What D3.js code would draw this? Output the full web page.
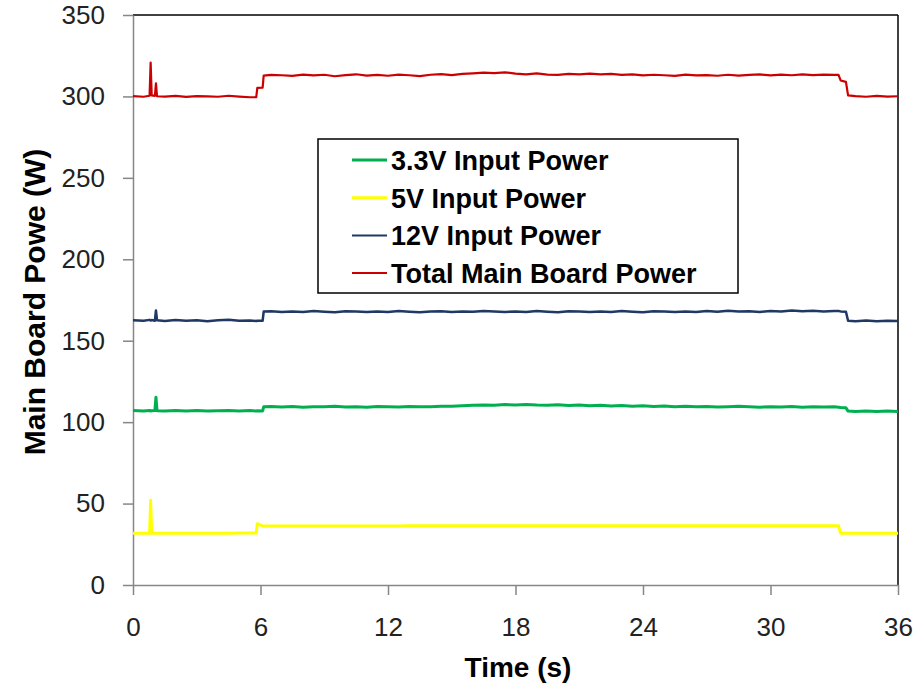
<!DOCTYPE html>
<html>
<head>
<meta charset="utf-8">
<script src="https://cdn.jsdelivr.net/npm/d3@7"></script>
<style>
  body { margin: 0; background: #fff; }
  svg { display: block; }
</style>
</head>
<body>
<script>

const time = [
  0, 0.5, 0.78, 0.83, 0.88, 1.03, 1.08, 1.13, 1.5, 2, 2.5, 3, 3.5, 4, 4.5, 5, 5.5, 5.8, 5.85, 6.1, 6.15, 6.5,
  7, 7.5, 8, 8.5, 9, 9.5, 10, 10.5, 11, 11.5,
  12, 12.5, 13, 13.5, 14, 14.5, 15, 15.5, 16, 16.5,
  17, 17.5, 18, 18.5, 19, 19.5, 20, 20.5, 21, 21.5,
  22, 22.5, 23, 23.5, 24, 24.5, 25, 25.5, 26, 26.5,
  27, 27.5, 28, 28.5, 29, 29.5, 30, 30.5, 31, 31.5,
  32, 32.5, 33, 33.2, 33.3, 33.55, 33.65, 34, 34.5, 35, 35.5, 36
];

const power33 = [
  107.1, 106.8, 107.2, 106.9, 107.0, 107.1, 115.3, 107.0, 106.8, 107.2, 106.9, 107.1, 106.8, 107.0, 107.2, 106.9, 107.1, 106.8, 107.0, 106.9, 109.4, 109.6,
  109.3, 109.6, 109.2, 109.5, 109.4, 109.7, 109.3, 109.5, 109.2, 109.6,
  109.4, 109.3, 109.6, 109.5, 109.4, 109.7, 109.8, 110.1, 110.3, 110.6,
  110.4, 110.8, 110.6, 110.9, 110.5, 110.3, 110.7, 110.2, 110.5, 110.0,
  110.3, 109.9, 110.2, 109.8, 110.1, 109.6, 109.9, 109.5, 109.7, 109.4,
  109.6, 109.3, 109.5, 109.7, 109.4, 109.2, 109.5, 109.3, 109.6, 109.2,
  109.4, 109.3, 109.5, 109.2, 109.0, 108.8, 106.8, 106.6, 106.9, 106.5, 106.8, 106.6
];

const power5 = [
  31.7, 31.7, 31.7, 52.0, 31.7, 31.7, 31.7, 31.7, 31.7, 31.7, 31.8, 31.8, 31.8, 31.8, 31.8, 31.9, 31.9, 31.9, 37.6, 36.3, 36.2, 36.3,
  36.3, 36.3, 36.3, 36.3, 36.3, 36.3, 36.3, 36.3, 36.3, 36.3,
  36.3, 36.3, 36.4, 36.4, 36.4, 36.4, 36.4, 36.4, 36.4, 36.4,
  36.4, 36.4, 36.4, 36.4, 36.4, 36.4, 36.4, 36.4, 36.4, 36.4,
  36.4, 36.4, 36.4, 36.4, 36.4, 36.4, 36.4, 36.4, 36.4, 36.4,
  36.4, 36.4, 36.4, 36.4, 36.4, 36.4, 36.4, 36.4, 36.4, 36.4,
  36.4, 36.4, 36.4, 36.4, 31.8, 31.7, 31.7, 31.7, 31.7, 31.7, 31.7, 31.7
];

const power12 = [
  162.6, 162.2, 162.8, 162.4, 162.7, 162.3, 168.6, 162.5, 162.1, 162.7, 162.3, 162.6, 162.0, 162.5, 162.8, 162.2, 162.4, 162.1, 162.3, 162.2, 167.9, 168.1,
  167.6, 168.0, 167.7, 168.2, 167.8, 167.5, 168.1, 167.9, 167.6, 168.0,
  167.7, 168.2, 167.8, 167.5, 167.9, 168.1, 167.6, 168.0, 167.8, 168.3,
  167.9, 167.6, 168.0, 167.7, 168.2, 167.8, 167.5, 168.1, 167.9, 167.6,
  168.0, 167.7, 168.2, 167.8, 167.5, 168.1, 167.9, 167.6, 168.0, 167.7,
  168.2, 167.8, 168.4, 167.9, 168.1, 167.7, 168.3, 168.0, 168.5, 168.1,
  168.4, 167.9, 168.2, 168.3, 168.0, 167.8, 162.3, 162.0, 162.4, 161.9, 162.3, 162.1
];

const powerTotal = [
  300.2, 299.8, 300.4, 320.8, 300.6, 300.3, 308.0, 300.1, 299.9, 300.3, 299.7, 300.2, 300.0, 299.8, 300.4, 299.9, 299.5, 299.6, 305.2, 305.4, 312.8, 313.2,
  313.0, 312.6, 313.4, 312.9, 313.3, 312.4, 313.1, 313.6, 312.8, 313.2,
  312.7, 313.4, 313.0, 312.5, 313.3, 313.7, 313.1, 313.9, 314.2, 314.6,
  314.3, 314.8, 314.0, 313.6, 314.1, 313.4, 313.2, 313.8, 313.5, 314.0,
  313.6, 313.9, 313.2, 313.5, 312.9, 313.3, 313.0, 312.6, 313.4, 312.9,
  313.1, 312.7, 313.3, 312.8, 313.2, 313.5, 312.9, 313.4, 313.0, 313.6,
  313.1, 313.4, 313.2, 313.3, 309.8, 308.9, 300.6, 300.2, 299.8, 300.3, 299.9, 300.1
];

const seriesNames = ["3.3V Input Power", "5V Input Power", "12V Input Power", "Total Main Board Power"];
const seriesValues = [power33, power5, power12, powerTotal];
const seriesColors = ["#00b050", "#ffff00", "#1f3864", "#cc0000"];
const seriesWidths = [3, 3, 2.5, 2.2];

const xTicks = [0, 6, 12, 18, 24, 30, 36];
const yTicks = [0, 50, 100, 150, 200, 250, 300, 350];

const width = 918;
const height = 691;
const margin = {top: 15, right: 20, bottom: 106, left: 133};
const chartWidth = width - margin.left - margin.right;
const chartHeight = height - margin.top - margin.bottom;

const xScale = d3.scaleLinear().domain([0, 36]).range([0, chartWidth]);
const yScale = d3.scaleLinear().domain([0, 350]).range([chartHeight, 0]);

const svg = d3.select("body").append("svg")
  .attr("width", width)
  .attr("height", height);

const graph = svg.append("g")
  .attr("transform", `translate(${margin.left},${margin.top})`);

// top and right frame
graph.append("line")
  .attr("x1", 0).attr("x2", chartWidth).attr("y1", 0).attr("y2", 0)
  .attr("stroke", "#000").attr("stroke-width", 1.5);
graph.append("line")
  .attr("x1", chartWidth).attr("x2", chartWidth).attr("y1", 0).attr("y2", chartHeight)
  .attr("stroke", "#000").attr("stroke-width", 1.5);

// x axis
const xAxis = graph.append("g")
  .attr("transform", `translate(0,${chartHeight})`)
  .call(d3.axisBottom(xScale).tickValues(xTicks).tickSize(10).tickPadding(23).tickSizeOuter(0));

// y axis
const yAxis = graph.append("g")
  .call(d3.axisLeft(yScale).tickValues(yTicks).tickSize(10).tickPadding(18).tickSizeOuter(0));

[xAxis, yAxis].forEach(ax => {
  ax.select(".domain").attr("stroke", "#868686").attr("stroke-width", 1.5);
  ax.selectAll(".tick line").attr("stroke", "#868686").attr("stroke-width", 1.5);
  ax.selectAll(".tick text")
    .attr("fill", "#222")
    .style("font-family", "'Liberation Sans', Arial, sans-serif")
    .style("font-size", "26px");
});

// lines
const line = d3.line()
  .x((d, i) => xScale(time[i]))
  .y(d => yScale(d));

graph.selectAll(".series")
  .data(seriesValues)
  .enter()
  .append("path")
    .attr("class", "series")
    .attr("d", d => line(d))
    .attr("fill", "none")
    .attr("stroke", (d, i) => seriesColors[i])
    .attr("stroke-width", (d, i) => seriesWidths[i])
    .attr("stroke-linejoin", "round");

// legend
const legend = svg.append("g").attr("transform", "translate(318,139)");
legend.append("rect")
  .attr("width", 420).attr("height", 154)
  .attr("fill", "#fff").attr("stroke", "#000").attr("stroke-width", 1.5);

const legendRows = legend.selectAll(".row")
  .data(seriesNames)
  .enter()
  .append("g")
    .attr("transform", (d, i) => `translate(0,${21 + i * 37.7})`);

legendRows.append("line")
  .attr("x1", 34).attr("x2", 69).attr("y1", 0).attr("y2", 0)
  .attr("stroke", (d, i) => seriesColors[i])
  .attr("stroke-width", (d, i) => i < 2 ? 3 : 2);

legendRows.append("text")
  .attr("x", 73)
  .attr("y", 10)
  .style("font-family", "'Liberation Sans', Arial, sans-serif")
  .style("font-size", "27px")
  .style("font-weight", "bold")
  .attr("fill", "#000")
  .text(d => d);

// axis titles
svg.append("text")
  .attr("x", 518)
  .attr("y", 677)
  .attr("text-anchor", "middle")
  .style("font-family", "'Liberation Sans', Arial, sans-serif")
  .style("font-size", "28px")
  .style("font-weight", "bold")
  .text("Time (s)");

svg.append("text")
  .attr("transform", "translate(45,302) rotate(-90)")
  .attr("text-anchor", "middle")
  .style("font-family", "'Liberation Sans', Arial, sans-serif")
  .style("font-size", "30px")
  .style("font-weight", "bold")
  .text("Main Board Powe (W)");

</script>
</body>
</html>
